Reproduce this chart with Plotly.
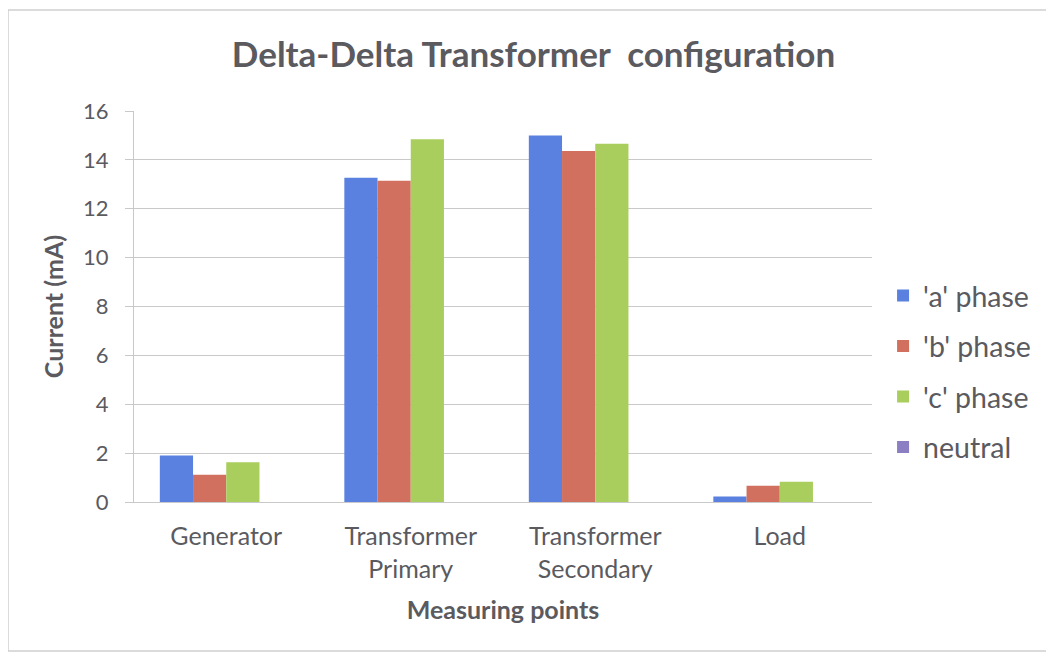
import plotly.graph_objects as go

categories = ["Generator", "Transformer<br>Primary", "Transformer<br>Secondary", "Load"]
phase_a = [1.90, 13.27, 15.00, 0.23]
phase_b = [1.11, 13.15, 14.36, 0.67]
phase_c = [1.63, 14.84, 14.66, 0.83]
neutral = [0, 0, 0, 0]
series_names = ["'a' phase", "'b' phase", "'c' phase", "neutral"]
series_values = [phase_a, phase_b, phase_c, neutral]
colors = ["#5A80E0", "#D2705F", "#A9CE5E", "#8B7EC2"]
y_ticks = [0, 2, 4, 6, 8, 10, 12, 14, 16]

FONT = "Lato"
TXT = "#5A5A5F"
GRID = "#C9C9C9"

# page body has an 8px margin, so the figure is drawn 8px smaller and offset
W, H = 1046, 647

fig = go.Figure()
for i, (name, vals) in enumerate(zip(series_names, series_values)):
    fig.add_trace(go.Bar(
        x=categories, y=vals, name=name,
        marker=dict(color=colors[i], line=dict(width=0)),
        legendgroup=f"g{i}",
    ))

fig.update_layout(
    width=W, height=H,
    margin=dict(l=126, r=182, t=103, b=153),
    paper_bgcolor="white", plot_bgcolor="white",
    barmode="group", bargap=0.28, bargroupgap=0,
    font=dict(family=FONT, color=TXT, size=19),
    title=dict(
        text="<b>Delta-Delta Transformer\u00a0 configuration</b>",
        x=525.5/W, xref="container", xanchor="center",
        y=1 - 47/H, yref="container", yanchor="middle",
        font=dict(family=FONT, size=35, color=TXT),
    ),
    legend=dict(
        x=1.015, xanchor="left", y=0.334, yanchor="middle",
        font=dict(family=FONT, size=28.5, color=TXT),
        traceorder="grouped", tracegroupgap=10.5,
        itemwidth=30, bgcolor="rgba(0,0,0,0)",
    ),
    xaxis=dict(
        tickmode="array", tickvals=categories,
        tickfont=dict(family=FONT, size=25, color=TXT),
        showline=True, linecolor=GRID, linewidth=1.3,
        showgrid=False, ticks="", ticklabelstandoff=12,
        title=dict(text="<b>Measuring points</b>", font=dict(family=FONT, size=25, color=TXT), standoff=19),
    ),
    yaxis=dict(
        range=[0, 16], tickvals=y_ticks,
        showgrid=True, gridcolor=GRID, gridwidth=1.3,
        showline=True, linecolor=GRID, linewidth=1.3,
        ticks="outside", ticklen=8, tickcolor=GRID, tickwidth=1.3,
        tickfont=dict(family=FONT, size=22, color=TXT),
        ticklabelstandoff=12,
        zeroline=False,
        title=dict(text="<b>Current (mA)</b>", font=dict(family=FONT, size=25, color=TXT), standoff=12),
    ),
    shapes=[dict(
        type="rect", xref="paper", yref="paper",
        x0=(8-134)/738, x1=(1049-134)/738, y0=(502-651)/391, y1=(502-10)/391,
        line=dict(color="#CFCFCF", width=1.5), fillcolor="rgba(0,0,0,0)", layer="below",
    )],
)

fig.write_html("out.html")
